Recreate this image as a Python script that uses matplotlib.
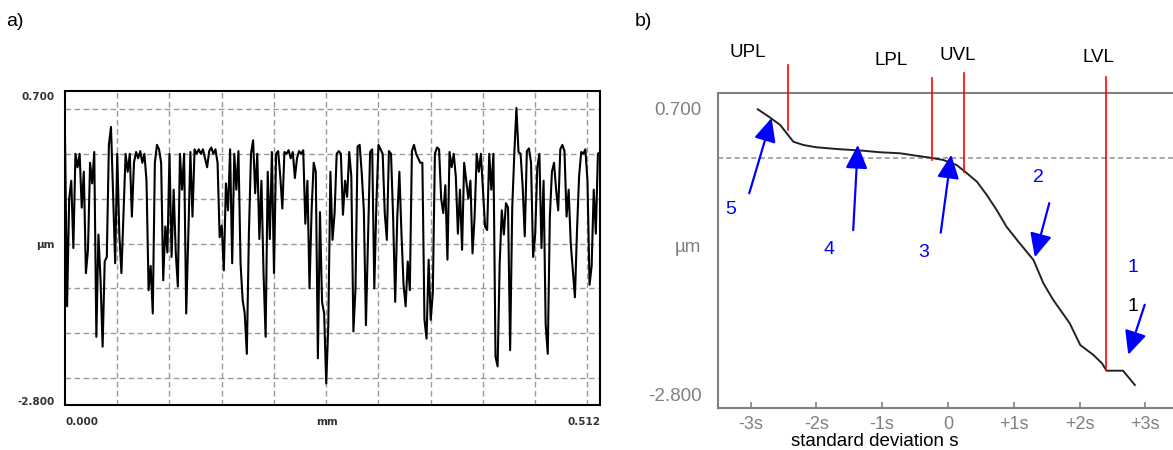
import matplotlib as mpl
import matplotlib.pyplot as plt
import numpy as np

mpl.rcParams.update({
    "font.family": ["Liberation Sans", "DejaVu Sans"],
    "font.size": 13,
})

# ---- panel a): roughness profile, um, sampled every 0.002 mm over 0.512 mm
PROFILE_UM = [
    0.19, -1.7, -0.5, -0.3, -1.05, 0.0, -0.15, 0.0, -0.6, -0.2,
    -1.33, -1.07, -0.1, -0.33, 0.02, -2.04, -0.9, -1.4, -2.15, -1.2,
    -1.15, 0.1, 0.3, -0.44, -1.22, 0.0, -0.9, -1.33, -0.66, 0.0,
    -0.2, 0.0, -0.7, -0.1, 0.02, -0.05, 0.03, -0.1, 0.0, -0.3,
    -1.52, -1.25, -1.78, -0.1, 0.1, 0.05, -0.1, -1.41, -0.81, -1.1,
    0.0, -1.15, -0.4, -1.1, -1.48, 0.0, -0.4, 0.0, -1.78, -0.92,
    0.02, -0.7, 0.05, 0.0,
    0.05, 0.0, 0.05, -0.05, -0.15, 0.03, 0.07, 0.0, 0.05, -0.1,
    -0.93, -0.8, -1.3, -0.33, -0.63, 0.05, -1.22, 0.0, -0.4, 0.03,
    -1.22, -1.63, -1.78, -2.23, -0.89, 0.0, 0.15, -0.44, 0.0, -0.95,
    -0.3, -1.33, -2.04, -0.2, -0.95, 0.02, -1.33, 0.0, 0.03, -0.25,
    -0.61, 0.02, 0.0, 0.04, -0.05, 0.02, -0.27, -0.05, 0.03, 0.0,
    0.04, -0.78, -0.3, -1.5, -0.63, -0.1, -0.2, -2.28, -0.65, -1.65,
    -1.78, -2.56, -1.9, -0.2,
    -0.96, -0.66, 0.0, 0.03, 0.0, -0.68, -0.3, -0.48, 0.02, -0.25,
    -1.98, -1.5, 0.08, 0.1, -0.22, -0.63, -1.91, -0.96, 0.02, 0.05,
    -1.5, -0.55, 0.1, 0.05, 0.0, -0.66, -0.96, 0.03, 0.0, -0.7,
    -1.65, -0.7, -0.2, -0.89, -1.46, -1.7, -1.2, -1.52, 0.03, 0.1,
    0.0, -0.05, -0.1, -0.1, -1.85, -2.06, -1.18, -1.85, -1.55, 0.0,
    0.07, 0.05, -0.5, -0.66, -0.35, -1.18, 0.02, -0.15, 0.0, -0.25,
    -0.89, -0.4, -1.07, -0.1,
    -0.3, -0.5, -0.3, -1.11, -0.7, 0.0, -0.2, 0.0, -0.4, -0.81,
    -0.85, 0.0, -0.4, 0.0, -2.26, -2.37, -1.22, -0.63, -0.9, -0.55,
    -0.6, -2.19, -0.6, 0.0, 0.51, 0.02, 0.0, -0.37, -0.92, 0.03,
    0.06, -0.1, -1.15, -0.89, -0.15, 0.0, -1.05, -0.3, -1.9, -2.23,
    -0.7, -0.2, -0.1, -0.4, -0.63, 0.05, 0.1, 0.03, -0.7, -0.4,
    -1.0, -1.3, -1.6, -0.85, -0.25, 0.02, 0.0, 0.05, -0.3, -1.46,
    -1.25, -0.4, -0.89, 0.0, 0.02,
]
PROFILE_LENGTH_MM = 0.512
PROFILE_GRID_X = [0.05, 0.10, 0.15, 0.20, 0.25, 0.30, 0.35, 0.40, 0.45, 0.50]
PROFILE_GRID_Y = [0.5, 0.0, -0.5, -1.0, -1.5, -2.0, -2.5]

# ---- panel b): Abbott (bearing) curve on a normal-probability axis
ABBOTT_S = [-2.89, -2.71, -2.55, -2.45, -2.35, -2.20, -2.00, -1.69, -1.29,
            -1.03, -0.73, -0.48, -0.27, -0.07, 0.13, 0.26, 0.44, 0.59,
            0.74, 0.89, 1.09, 1.30, 1.45, 1.60, 1.85, 2.01, 2.21, 2.34,
            2.41, 2.66, 2.84]
ABBOTT_UM = [0.684, 0.587, 0.493, 0.391, 0.289, 0.249, 0.221, 0.200, 0.179,
             0.160, 0.148, 0.118, 0.094, 0.066, 0.005, -0.077, -0.199, -0.361,
             -0.544, -0.748, -0.950, -1.154, -1.438, -1.641, -1.925, -2.190,
             -2.312, -2.413, -2.504, -2.504, -2.678]
S_TICKS = [-3, -2, -1, 0, 1, 2, 3]
S_TICK_LABELS = ["-3s", "-2s", "-1s", "0", "+1s", "+2s", "+3s"]
MEAN_LINE_UM = 0.09

LIMIT_NAMES = ["UPL", "LPL", "UVL", "LVL"]
LIMIT_S = [-2.43, -0.24, 0.24, 2.40]
LIMIT_TOP = [1.224, 1.066, 1.127, 1.078]
LIMIT_BOTTOM = [0.432, 0.066, -0.080, -2.495]
LIMIT_LABEL_S = [-3.04, -0.87, 0.15, 2.28]
LIMIT_LABEL_UM = [1.38, 1.285, 1.346, 1.322]

ARROW_LABELS = ["5", "4", "3", "2", "1"]
ARROW_TAIL = [(-3.02, -0.34), (-1.44, -0.79), (-0.11, -0.82), (1.54, -0.46), (2.99, -1.70)]
ARROW_HEAD = [(-2.68, 0.58), (-1.37, 0.25), (0.05, 0.13), (1.32, -1.12), (2.74, -2.31)]
ARROW_LABEL_POS = [(-3.31, -0.54), (-1.81, -1.03), (-0.37, -1.06), (1.37, -0.15), (2.81, -1.24)]

W, H = 1173, 450
fig = plt.figure(figsize=(W / 100, H / 100), dpi=100)


def px_box(x0, y0, x1, y1):
    return [x0 / W, 1 - y1 / H, (x1 - x0) / W, (y1 - y0) / H]


# ---------------- a)
ax = fig.add_axes(px_box(65, 91, 600, 405))
x_mm = np.linspace(0, PROFILE_LENGTH_MM, len(PROFILE_UM))
ax.plot(x_mm, PROFILE_UM, color="black", lw=1.5, zorder=3)
ax.set_xlim(0, PROFILE_LENGTH_MM)
ax.set_ylim(-2.8, 0.7)
grid_kw = dict(color="#9a9a9a", lw=1.0, ls=(0, (4, 2.5)), zorder=1)
for gx in PROFILE_GRID_X:
    ax.axvline(gx, **grid_kw)
for gy in PROFILE_GRID_Y:
    ax.axhline(gy, **grid_kw)
ax.set_xticks([])
ax.set_yticks([])
for sp in ax.spines.values():
    sp.set_color("black")
    sp.set_linewidth(1.5)

small = dict(family="DejaVu Sans", fontsize=7.5, fontweight="bold", color="#333333")
ax.text(-0.02, 0.98, "0.700", transform=ax.transAxes, ha="right", va="center", **small)
ax.text(-0.02, 0.51, "µm", transform=ax.transAxes, ha="right", va="center", **small)
ax.text(-0.02, 0.01, "-2.800", transform=ax.transAxes, ha="right", va="center", **small)
ax.text(0.0, -0.055, "0.000", transform=ax.transAxes, ha="left", va="center", **small)
ax.text(0.49, -0.055, "mm", transform=ax.transAxes, ha="center", va="center", **small)
ax.text(1.0, -0.055, "0.512", transform=ax.transAxes, ha="right", va="center", **small)

fig.text(15 / W, 1 - 22 / H, "a)", fontsize=14, ha="center", va="center")
fig.text(643 / W, 1 - 22 / H, "b)", fontsize=14, ha="center", va="center")

# ---------------- b)
bx = fig.add_axes(px_box(718, 93, 1173, 408))
bx.set_xlim(-3.495, 3.42)
bx.set_ylim(-2.959, 0.883)
bx.axhline(MEAN_LINE_UM, color="#9a9a9a", lw=1.2, ls=(0, (3, 2)), zorder=1)
bx.plot(ABBOTT_S, ABBOTT_UM, color="#222222", lw=1.4, zorder=3)

for s, top, bot in zip(LIMIT_S, LIMIT_TOP, LIMIT_BOTTOM):
    bx.plot([s, s], [bot, top], color="red", lw=1.2, clip_on=False, zorder=4)
for name, s, v in zip(LIMIT_NAMES, LIMIT_LABEL_S, LIMIT_LABEL_UM):
    bx.text(s, v, name, ha="center", va="center", fontsize=13.5, color="black", clip_on=False)

for lab, tail, head, lpos in zip(ARROW_LABELS, ARROW_TAIL, ARROW_HEAD, ARROW_LABEL_POS):
    bx.annotate("", xy=head, xytext=tail,
                arrowprops=dict(arrowstyle="-|>,head_length=0.6,head_width=0.28",
                                color="blue", lw=1.6, mutation_scale=24,
                                shrinkA=0, shrinkB=0))
    bx.text(lpos[0], lpos[1], lab, ha="center", va="center", fontsize=14, color="blue")
bx.text(ARROW_LABEL_POS[-1][0], -1.727, "1", ha="center", va="center", fontsize=14, color="black")

bx.set_xticks(S_TICKS)
bx.set_xticklabels(S_TICK_LABELS)
bx.set_yticks([0.7, -0.971, -2.8])
bx.set_yticklabels(["0.700", "µm", "-2.800"])
bx.tick_params(axis="x", direction="in", length=4, width=1.2, color="#808080",
               labelcolor="#808080", labelsize=13, pad=6)
bx.tick_params(axis="y", length=0, labelcolor="#808080", labelsize=13.5, pad=12)
bx.spines["right"].set_visible(False)
for side in ("left", "top", "bottom"):
    bx.spines[side].set_color("#808080")
    bx.spines[side].set_linewidth(1.5)
bx.text(-1.12, -3.37, "standard deviation s", ha="center", va="center",
        fontsize=13.5, color="black", clip_on=False)

fig.savefig("out.png", dpi=100)
